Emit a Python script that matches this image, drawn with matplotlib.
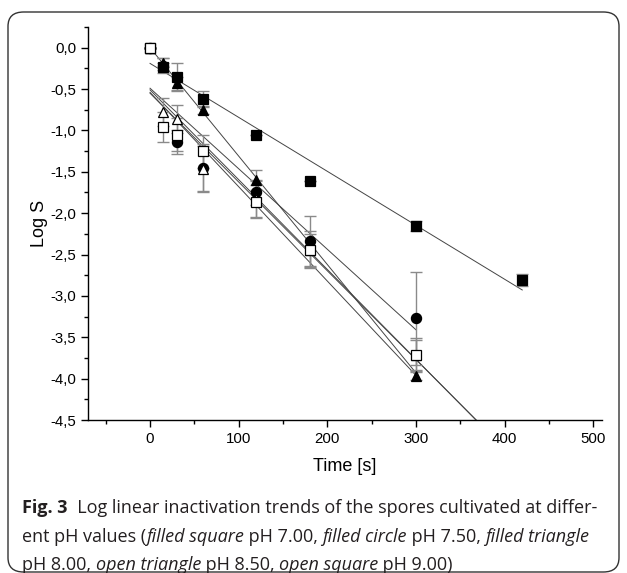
import numpy as np
import matplotlib
matplotlib.use("Agg")
import matplotlib.pyplot as plt
from matplotlib.ticker import MultipleLocator, FuncFormatter
from matplotlib.patches import FancyBboxPatch
import matplotlib.transforms as mtransforms

# ---------------- data ----------------
t_sq = [0, 15, 30, 60, 120, 180, 300, 420]
y_sq = [0.0, -0.23, -0.35, -0.62, -1.06, -1.61, -2.15, -2.81]
e_sq = [0.0, 0.04, 0.17, 0.10, 0.0, 0.0, 0.06, 0.07]

t_ci = [0, 15, 30, 60, 120, 180, 300]
y_ci = [0.0, -0.22, -1.14, -1.45, -1.75, -2.34, -3.27]
e_ci = [0.0, 0.09, 0.14, 0.28, 0.15, 0.30, 0.56]

t_tr = [0, 15, 30, 60, 120, 300]
y_tr = [0.0, -0.18, -0.43, -0.75, -1.60, -3.97]
e_tr = [0.0, 0.05, 0.08, 0.05, 0.12, 0.05]

t_otr = [0, 15, 30, 60, 120, 180, 300]
y_otr = [0.0, -0.78, -0.86, -1.47, -1.83, -2.44, -3.71]
e_otr = [0.0, 0.17, 0.17, 0.28, 0.22, 0.22, 0.20]

t_osq = [0, 15, 30, 60, 120, 180, 300]
y_osq = [0.0, -0.96, -1.05, -1.25, -1.86, -2.45, -3.71]
e_osq = [0.0, 0.18, 0.20, 0.20, 0.20, 0.20, 0.18]

# linear fit lines (intercept, slope, end time)
fit_b = [-0.19, 0.0, -0.49, -0.51, -0.55, -0.54]
fit_m = [-0.00652, -0.0131, -0.00973, -0.01085, -0.01073, -0.0114]
fit_tend = [420, 300, 300, 380, 380, 300]

x_ticks = [0, 100, 200, 300, 400, 500]
y_ticks = [0.0, -0.5, -1.0, -1.5, -2.0, -2.5, -3.0, -3.5, -4.0, -4.5]

# ---------------- figure ----------------
W, H = 627, 573
fig = plt.figure(figsize=(W / 100, H / 100), dpi=100)

border = FancyBboxPatch((8 / W, 1 / H), (611 / W), (560 / H),
                        boxstyle="round,pad=0,rounding_size=0.025",
                        transform=fig.transFigure, fill=False,
                        edgecolor="#333333", linewidth=1.0)
fig.patches.append(border)

ax = fig.add_axes([88 / W, 1 - 420 / H, (602 - 88) / W, (420 - 27) / H])
ax.set_xlim(-70, 510)
ax.set_ylim(-4.5, 0.25)

line_kw = dict(color="#444444", lw=0.7, zorder=2)
for b, m, te in zip(fit_b, fit_m, fit_tend):
    tt = np.array([0.0, te])
    ax.plot(tt, b + m * tt, **line_kw)

ms = 7.3
series = [
    (t_tr, y_tr, e_tr, "^", "black"),
    (t_sq, y_sq, e_sq, "s", "black"),
    (t_ci, y_ci, e_ci, "o", "black"),
    (t_otr, y_otr, e_otr, "^", "white"),
    (t_osq, y_osq, e_osq, "s", "white"),
]
for t, y, e, mk, fc in series:
    ax.errorbar(t, y, yerr=e, fmt="none", ecolor="#8a8a8a", elinewidth=1.0,
                capsize=4, capthick=1.0, zorder=3)
for t, y, e, mk, fc in series:
    ax.plot(t, y, linestyle="none", marker=mk, markersize=ms,
            markerfacecolor=fc, markeredgecolor="black", markeredgewidth=0.9,
            zorder=4)

for s in ["top", "right"]:
    ax.spines[s].set_visible(False)
for s in ["left", "bottom"]:
    ax.spines[s].set_linewidth(1.0)

ax.set_xticks(x_ticks)
ax.set_yticks(y_ticks)
ax.xaxis.set_minor_locator(MultipleLocator(50))
ax.yaxis.set_minor_locator(MultipleLocator(0.25))
ax.tick_params(which="major", direction="out", length=5, width=1.0,
               labelsize=10.8)
ax.tick_params(which="minor", direction="out", length=3, width=1.0)
ax.yaxis.set_major_formatter(FuncFormatter(lambda v, p: f"{v:.1f}".replace(".", ",")))
for lab in ax.get_xticklabels() + ax.get_yticklabels():
    lab.set_fontfamily("Liberation Sans")

ax.set_xlabel("Time [s]", fontsize=13, family="Liberation Sans", labelpad=9)
ax.set_ylabel("Log S", fontsize=13, family="Liberation Sans", labelpad=2)

# ---------------- caption ----------------
renderer = fig.canvas.get_renderer()
ident = mtransforms.IdentityTransform()
cap_size = 13.0
cap_font = "Open Sans"
cap_color = "#231f20"

def put_runs(x, y_top, parts):
    for txt, style in parts:
        kw = dict(fontsize=cap_size, family=cap_font, color=cap_color,
                  transform=ident, va="baseline", ha="left")
        if style == "b":
            kw["fontweight"] = "bold"
        elif style == "i":
            kw["fontstyle"] = "italic"
        tobj = fig.text(x, H - y_top, txt, **kw)
        bb = tobj.get_window_extent(renderer)
        x = bb.x1

put_runs(22, 513, [("Fig. 3", "b"),
                   ("  Log linear inactivation trends of the spores cultivated at differ-", "n")])
put_runs(22, 542, [("ent pH values (", "n"), ("filled square", "i"), (" pH 7.00, ", "n"),
                   ("filled circle", "i"), (" pH 7.50, ", "n"), ("filled triangle", "i")])
put_runs(22, 570, [("pH 8.00, ", "n"), ("open triangle", "i"), (" pH 8.50, ", "n"),
                   ("open square", "i"), (" pH 9.00)", "n")])

fig.savefig("out.png", dpi=100)
